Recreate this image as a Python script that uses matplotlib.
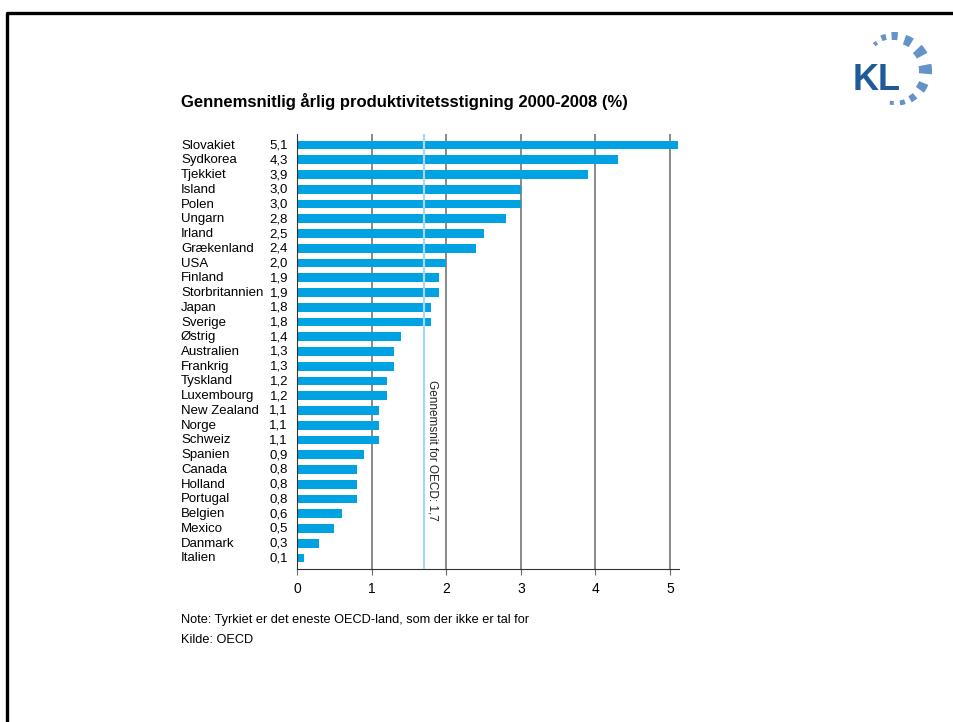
import matplotlib
matplotlib.use("Agg")
import matplotlib.pyplot as plt
from matplotlib.patches import Wedge
from matplotlib.lines import Line2D

countries = ["Slovakiet", "Sydkorea", "Tjekkiet", "Island", "Polen", "Ungarn", "Irland",
             "Grækenland", "USA", "Finland", "Storbritannien", "Japan", "Sverige", "Østrig",
             "Australien", "Frankrig", "Tyskland", "Luxembourg", "New Zealand", "Norge",
             "Schweiz", "Spanien", "Canada", "Holland", "Portugal", "Belgien", "Mexico",
             "Danmark", "Italien"]
values = [5.1, 4.3, 3.9, 3.0, 3.0, 2.8, 2.5, 2.4, 2.0, 1.9, 1.9, 1.8, 1.8, 1.4,
          1.3, 1.3, 1.2, 1.2, 1.1, 1.1, 1.1, 0.9, 0.8, 0.8, 0.8, 0.6, 0.5, 0.3, 0.1]
oecd_avg = 1.7
x_ticks = [0, 1, 2, 3, 4, 5]

title = "Gennemsnitlig årlig produktivitetsstigning 2000-2008 (%)"
note = "Note: Tyrkiet er det eneste OECD-land, som der ikke er tal for"
source = "Kilde: OECD"

plt.rcParams['font.family'] = ['Liberation Sans', 'DejaVu Sans']

W, H = 954, 722
fig = plt.figure(figsize=(W / 100, H / 100), dpi=100)

# overlay in pixel coords for slide frame and logo
bg = fig.add_axes([0, 0, 1, 1])
bg.set_xlim(0, W)
bg.set_ylim(0, H)
bg.axis("off")
bg.add_line(Line2D([7.5, 7.5, W + 5], [-5, H - 12.5, H - 12.5], color="black", lw=2.4))

# KL logo
bg.text(853, H - 77, "KL", fontsize=26, fontweight="bold", color="#1f5b98",
        va="center_baseline", ha="left")
cx, cy = 894, H - 71
segs = [(124, 6, 31, 35), (107, 8, 32, 38), (89, 10, 31, 39), (65, 13, 28, 38),
        (36, 15, 26, 38), (3, 16, 25, 38), (-29, 14, 27, 37), (-55, 11, 29, 36),
        (-75, 9, 30, 35), (-94, 7, 30, 34)]
for ang, w, r0, r1 in segs:
    bg.add_patch(Wedge((cx, cy), r1, ang - w / 2, ang + w / 2, width=r1 - r0,
                       color="#6592c9", lw=0))

# chart
left, right = 297, 679
top, bottom = 134, 569
ax = fig.add_axes([left / W, 1 - bottom / H, (right - left) / W, (bottom - top) / H])
ypos = list(range(len(countries)))
ax.barh(ypos, values, height=0.6, color="#00a2e1", zorder=2)
ax.set_xlim(0, 5.12)
ax.set_ylim(len(countries) - 0.25, -0.75)

for t in x_ticks[1:]:
    ax.axvline(t, color="#6a6a6a", lw=1.1, zorder=1)
ax.axvline(oecd_avg, color="#a6d8f2", lw=1.6, zorder=3)
ax.text(oecd_avg + 0.11, 15.9, "Gennemsnit for OECD: 1,7", rotation=-90,
        fontsize=8.5, color="#222222", ha="center", va="top", zorder=4)

for s in ["top", "right"]:
    ax.spines[s].set_visible(False)
ax.spines["left"].set_color("#333333")
ax.spines["bottom"].set_color("#333333")
ax.set_xticks(x_ticks)
ax.set_xticklabels([str(t) for t in x_ticks], fontsize=10)
ax.tick_params(axis="x", direction="out", length=4.5, color="#6a6a6a", pad=5)
ax.set_yticks([])

for i, (c, v) in enumerate(zip(countries, values)):
    ax.annotate(c, xy=(0, i), xycoords=("figure fraction", "data"),
                xytext=(181, 1), textcoords="offset pixels", fontsize=9.5,
                va="center_baseline", ha="left")
    ax.annotate(f"{v:.1f}".replace(".", ","), xy=(0, i),
                xycoords=("figure fraction", "data"),
                xytext=(288, 1), textcoords="offset pixels", fontsize=9.5,
                va="center_baseline", ha="right")

fig.text(181 / W, 1 - 101 / H, title, fontsize=12, fontweight="bold", va="center")
fig.text(181 / W, 1 - 620 / H, note, fontsize=9.2, va="center")
fig.text(181 / W, 1 - 640 / H, source, fontsize=9.2, va="center")

fig.savefig("out.png", dpi=100)
